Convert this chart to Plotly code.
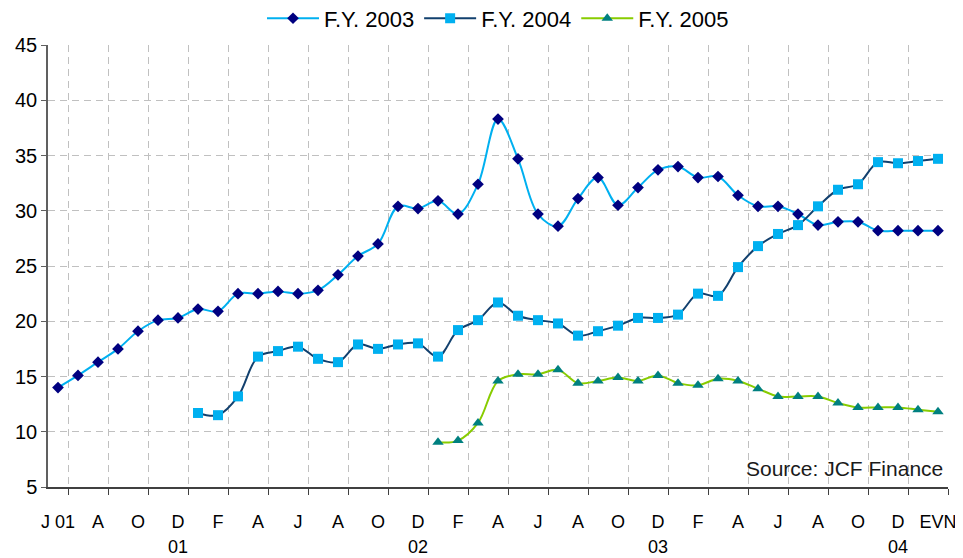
import plotly.graph_objects as go

# Monthly categories (index), Jun 2001 .. Feb 2005
month_labels = ["J 01", "J", "A", "S", "O", "N", "D", "J", "F", "M", "A", "M", "J", "J",
                "A", "S", "O", "N", "D", "J", "F", "M", "A", "M", "J", "J", "A", "S",
                "O", "N", "D", "J", "F", "M", "A", "M", "J", "J", "A", "S", "O", "N",
                "D", "J", "EVN"]
year_labels = ["01", "02", "03", "04"]
year_positions = [6, 18, 30, 42]

fy2003 = [14.0, 15.1, 16.3, 17.5, 19.1, 20.1, 20.3, 21.1, 20.9, 22.5, 22.5, 22.7, 22.5,
          22.8, 24.2, 25.9, 27.0, 30.4, 30.2, 30.9, 29.7, 32.4, 38.3, 34.7, 29.7, 28.6,
          31.1, 33.0, 30.5, 32.1, 33.7, 34.0, 33.0, 33.1, 31.4, 30.4, 30.4, 29.7, 28.7,
          29.0, 29.0, 28.2, 28.2, 28.2, 28.2]
fy2004 = [None] * 7 + [11.7, 11.5, 13.2, 16.8, 17.3, 17.7, 16.6, 16.3, 17.9, 17.5, 17.9,
                       18.0, 16.8, 19.2, 20.1, 21.7, 20.5, 20.1, 19.8, 18.7, 19.1, 19.6,
                       20.3, 20.3, 20.6, 22.5, 22.3, 24.9, 26.8, 27.9, 28.7, 30.4, 31.9,
                       32.4, 34.4, 34.3, 34.5, 34.7]
fy2005 = [None] * 19 + [9.05, 9.2, 10.8, 14.6, 15.2, 15.2, 15.6, 14.4, 14.6, 14.9, 14.6,
                        15.1, 14.4, 14.2, 14.8, 14.6, 13.9, 13.2, 13.2, 13.2, 12.6, 12.2,
                        12.2, 12.2, 12.0, 11.8]

x = list(range(len(month_labels)))
shown_idx = [i for i in x if i % 2 == 0]
shown_text = [month_labels[i] for i in shown_idx]

FONT = "Liberation Sans, Arial, sans-serif"

fig = go.Figure()
fig.add_trace(go.Scatter(
    x=x, y=fy2003, name="F.Y. 2003", mode="lines+markers",
    line=dict(color="#00B0F0", width=2, shape="spline", smoothing=1.0),
    marker=dict(symbol="diamond", size=9, color="#000080")))
fig.add_trace(go.Scatter(
    x=x, y=fy2004, name="F.Y. 2004", mode="lines+markers",
    line=dict(color="#12406E", width=2, shape="spline", smoothing=1.0),
    marker=dict(symbol="square", size=10, color="#00B0F0")))
fig.add_trace(go.Scatter(
    x=x, y=fy2005, name="F.Y. 2005", mode="lines+markers",
    line=dict(color="#88CC00", width=2, shape="spline", smoothing=1.0),
    marker=dict(symbol="triangle-up", size=10, color="#008080")))

grid_dash = "7px,5px"

fig.update_xaxes(
    range=[-0.5, len(x) - 0.5], automargin=False,
    tickmode="array", tickvals=shown_idx, ticktext=shown_text,
    ticks="", showgrid=False, ticklabelstandoff=18,
    tickfont=dict(family=FONT, size=18, color="#000000"),
    showline=True, linecolor="#404040", linewidth=1.5,
    zeroline=False,
    minor=dict(tick0=0.5, dtick=2, ticks="outside", ticklen=6, tickcolor="#404040",
               tickwidth=1, showgrid=True, gridcolor="#C0C0C0", griddash=grid_dash,
               gridwidth=1),
)
fig.update_yaxes(
    range=[5, 45], tickmode="linear", tick0=5, dtick=5, automargin=False,
    ticks="outside", ticklen=5, tickcolor="#606060",
    tickfont=dict(family=FONT, size=20, color="#000000"),
    showline=True, linecolor="#606060", linewidth=1.5,
    showgrid=True, gridcolor="#C0C0C0", griddash=grid_dash, gridwidth=1,
    zeroline=False,
)

annotations = []
for lab, pos in zip(year_labels, year_positions):
    annotations.append(dict(x=pos, y=-0.136, xref="x", yref="paper", text=lab,
                            showarrow=False, yanchor="middle",
                            font=dict(family=FONT, size=18, color="#000000")))
annotations.append(dict(x=1, y=0.041, xref="paper", yref="paper",
                        text="Source: JCF Finance", showarrow=False,
                        xanchor="right", yanchor="middle", xshift=-3,
                        font=dict(family=FONT, size=21, color="#1a1a1a")))

fig.update_layout(
    width=955, height=550,
    margin=dict(l=40, r=15, t=37, b=71),
    paper_bgcolor="#FFFFFF", plot_bgcolor="#FFFFFF",
    font=dict(family=FONT, color="#000000"),
    legend=dict(orientation="h", x=0.5, xanchor="center",
                yref="container", y=0.981, yanchor="middle",
                font=dict(family=FONT, size=22, color="#000000"),
                itemwidth=52, tracegroupgap=0),
    annotations=annotations,
    showlegend=True,
)

fig.write_html("out.html")
